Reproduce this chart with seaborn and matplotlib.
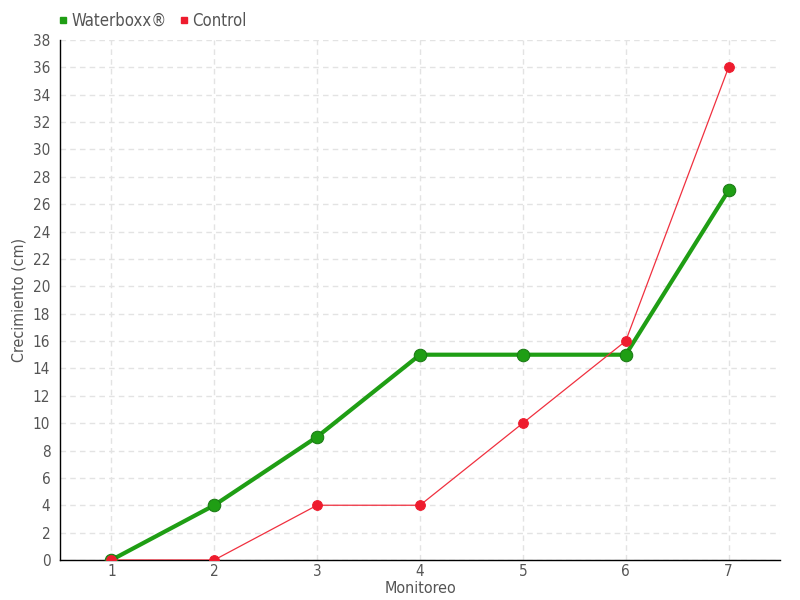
import matplotlib
matplotlib.use("Agg")
import matplotlib.pyplot as plt
from matplotlib.lines import Line2D
from matplotlib import font_manager
import seaborn as sns
import pandas as pd

monitoreo = [1, 2, 3, 4, 5, 6, 7]
waterboxx = [0, 4, 9, 15, 15, 15, 27]
control = [0, 0, 4, 4, 10, 16, 36]
series_names = ["Waterboxx®", "Control"]
y_ticks = list(range(0, 39, 2))

df = pd.DataFrame({
    "Monitoreo": monitoreo * 2,
    "Crecimiento": waterboxx + control,
    "Serie": [series_names[0]] * 7 + [series_names[1]] * 7,
})

sns.set_style("white")
names = {f.name for f in font_manager.fontManager.ttflist}
fam = ["Liberation Sans Narrow", "DejaVu Sans"] if "Liberation Sans Narrow" in names else ["DejaVu Sans"]
plt.rcParams["font.family"] = fam
if "Liberation Sans Narrow" not in names:
    plt.rcParams["font.stretch"] = "condensed"

green = "#1f9e14"
red = "#ee1c2e"
txt = "#555555"

fig = plt.figure(figsize=(8, 6), dpi=100)
ax = fig.add_axes([0.075, 0.0667, 0.9, 0.8667])

sub_c = df[df["Serie"] == "Control"]
sub_w = df[df["Serie"] == "Waterboxx®"]
sns.lineplot(data=sub_w, x="Monitoreo", y="Crecimiento", ax=ax, color=green,
             linewidth=3.0, marker="o", markersize=9, markeredgecolor="#1a7a14",
             markerfacecolor="#1f9e14", zorder=3)
sns.lineplot(data=sub_c, x="Monitoreo", y="Crecimiento", ax=ax, color="#f0303f",
             linewidth=0.9, marker="o", markersize=7, markeredgecolor=red,
             markerfacecolor=red, zorder=4)

ax.set_xlim(0.5, 7.5)
ax.set_ylim(0, 38)
ax.set_xticks(monitoreo)
ax.set_yticks(y_ticks)
ax.grid(True, color="#e3e3e3", linestyle=(0, (4, 3)), linewidth=1)
ax.set_axisbelow(True)
for s in ["top", "right"]:
    ax.spines[s].set_visible(False)
for s in ["left", "bottom"]:
    ax.spines[s].set_color("black")
    ax.spines[s].set_linewidth(1)
ax.tick_params(axis="y", direction="out", length=5, colors="black", labelcolor=txt, labelsize=11, pad=2)
ax.tick_params(axis="x", direction="inout", length=6, colors="#777777", labelcolor=txt, labelsize=11, pad=0)
ax.set_xlabel("Monitoreo", color=txt, fontsize=11.5)
ax.set_ylabel("Crecimiento (cm)", color=txt, fontsize=11.5)
ax.yaxis.set_label_coords(-0.046, 0.5)
ax.xaxis.set_label_coords(0.5, -0.04)

handles = [
    Line2D([], [], linestyle="none", marker="s", markersize=5, color=green),
    Line2D([], [], linestyle="none", marker="s", markersize=5, color=red),
]
fig.legend(handles, series_names, loc="upper left", bbox_to_anchor=(0.05, 1.005),
           ncol=2, frameon=False, fontsize=12, handletextpad=0.0, columnspacing=0.5,
           labelcolor=txt, handlelength=1.0)

fig.savefig("out.png", dpi=100)
